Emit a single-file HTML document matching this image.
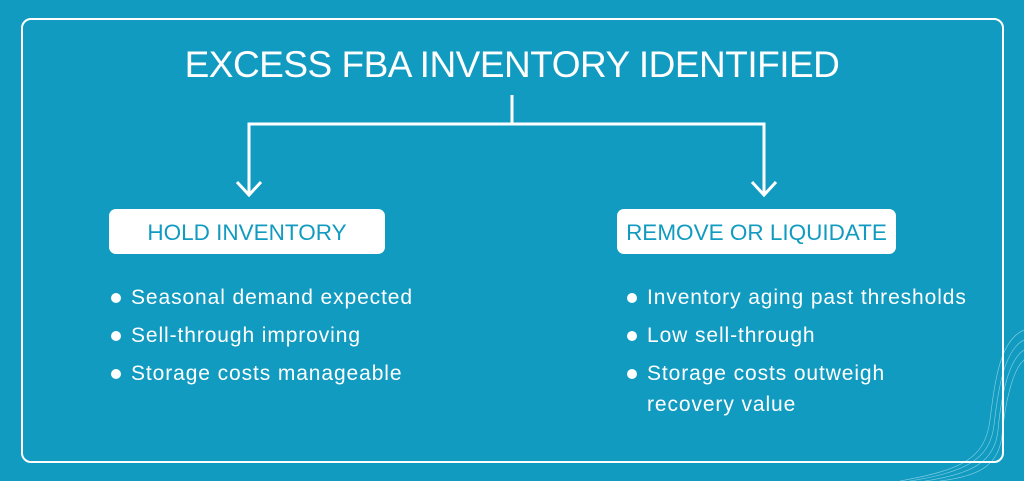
<!DOCTYPE html><html><head><style>
body{margin:0;width:1024px;height:481px;background:#129bc0;position:relative;overflow:hidden;font-family:"Liberation Sans",sans-serif;color:#fff}
.frame{position:absolute;left:21px;top:18px;width:979px;height:441px;border:2px solid #fff;border-radius:10px}
.t{position:absolute;left:0;width:1024px;text-align:center;top:44px;font-size:37px;letter-spacing:-0.5px}
.box{position:absolute;top:209px;height:45px;background:#fff;border-radius:7px;color:#129bc0;font-size:22.5px;text-align:center;line-height:47px}
.li{position:absolute;font-size:21px;line-height:31px;letter-spacing:0.9px}
.li:before{content:"";position:absolute;left:-20px;top:11px;width:10px;height:10px;border-radius:50%;background:#fff}
</style></head><body>
<svg width="1024" height="481" style="position:absolute;left:0;top:0" fill="none" stroke="#bfe9f5" stroke-width="0.6" opacity="0.7">
<path d="M1024 330C1000 340 995 380 990 420S960 470 900 481"/>
<path d="M1024 340C1004 350 998 390 994 425S965 472 910 481"/>
<path d="M1024 350C1008 360 1001 398 998 430S972 474 925 481"/>
<path d="M1024 360C1012 370 1005 405 1002 435S980 476 940 481"/>
</svg>
<div class="frame"></div>
<div class="t">EXCESS FBA INVENTORY IDENTIFIED</div>
<svg width="1024" height="481" style="position:absolute;left:0;top:0" fill="none" stroke="#fff" stroke-width="3">
<path d="M512 95V124M249 195V124H764V195"/>
<path d="M237 182L249 195L261 182M752 182L764 195L776 182"/>
</svg>
<div class="box" style="left:109px;width:276px">HOLD INVENTORY</div>
<div class="box" style="left:617px;width:279px">REMOVE OR LIQUIDATE</div>
<div class="li" style="left:131px;top:282px">Seasonal demand expected</div>
<div class="li" style="left:131px;top:320px">Sell-through improving</div>
<div class="li" style="left:131px;top:358px">Storage costs manageable</div>
<div class="li" style="left:647px;top:282px">Inventory aging past thresholds</div>
<div class="li" style="left:647px;top:320px">Low sell-through</div>
<div class="li" style="left:647px;top:358px">Storage costs outweigh<br>recovery value</div>
</body></html>
